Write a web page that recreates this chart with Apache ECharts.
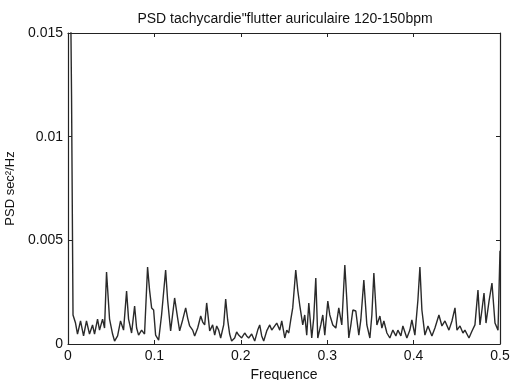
<!DOCTYPE html>
<html>
<head>
<meta charset="utf-8">
<script src="https://cdn.jsdelivr.net/npm/echarts@6/dist/echarts.min.js"></script>
<style>html,body{margin:0;padding:0;background:#fff;}#c{width:514px;height:380px;}</style>
</head>
<body>
<div id="c"></div>
<script>
var titleText = 'PSD tachycardie"flutter auriculaire 120-150bpm';
var xName = 'Frequence';
var yName = 'PSD sec\u00b2/Hz';
var xTicks = [0, 0.1, 0.2, 0.3, 0.4, 0.5];
var yTicks = [0, 0.005, 0.01, 0.015];
var freq = [0,0.0041,0.0058,0.0087,0.0110,0.0145,0.0180,0.0214,0.0249,0.0284,0.0307,0.0342,0.0365,0.0400,0.0423,0.0446,0.0481,0.0516,0.0539,0.0574,0.0608,0.0643,0.0678,0.0701,0.0736,0.0771,0.0794,0.0817,0.0852,0.0886,0.0921,0.0944,0.0968,0.0991,0.1014,0.1049,0.1083,0.1130,0.1153,0.1188,0.1234,0.1269,0.1292,0.1327,0.1362,0.1385,0.1408,0.1443,0.1466,0.1501,0.1536,0.1559,0.1582,0.1605,0.1640,0.1674,0.1698,0.1721,0.1744,0.1767,0.1802,0.1825,0.1848,0.1871,0.1894,0.1929,0.1952,0.1975,0.2010,0.2045,0.2068,0.2091,0.2126,0.2161,0.2196,0.2219,0.2242,0.2265,0.2300,0.2335,0.2358,0.2381,0.2416,0.2451,0.2474,0.2509,0.2532,0.2555,0.2578,0.2601,0.2636,0.2659,0.2682,0.2717,0.2740,0.2763,0.2787,0.2821,0.2844,0.2868,0.2891,0.2926,0.2949,0.2972,0.3007,0.3030,0.3065,0.3100,0.3134,0.3169,0.3204,0.3227,0.3250,0.3274,0.3297,0.3331,0.3366,0.3389,0.3424,0.3459,0.3494,0.3517,0.3540,0.3575,0.3610,0.3633,0.3656,0.3691,0.3725,0.3760,0.3795,0.3818,0.3853,0.3876,0.3922,0.3957,0.3980,0.4015,0.4050,0.4073,0.4096,0.4131,0.4166,0.4212,0.4247,0.4293,0.4328,0.4363,0.4409,0.4444,0.4479,0.4502,0.4537,0.4571,0.4594,0.4641,0.4676,0.4710,0.4745,0.4768,0.4791,0.4815,0.4838,0.4873,0.4907,0.4942,0.4977,0.5];
var psd = [0.03,0.012,0.0014,0.00101,0.00048,0.00111,0.00039,0.00111,0.00048,0.00092,0.00048,0.0012,0.00067,0.0012,0.00077,0.00347,0.0012,0.00048,0.00014,0.00039,0.00111,0.00067,0.00255,0.0012,0.00053,0.00183,0.00077,0.00043,0.00067,0.00048,0.00371,0.0026,0.00174,0.00164,0.00043,0.00019,0.0014,0.00357,0.00212,0.00063,0.00222,0.00125,0.00063,0.00116,0.00174,0.00125,0.00087,0.00067,0.00039,0.00077,0.00135,0.00106,0.00092,0.00198,0.00063,0.00092,0.00043,0.00087,0.00067,0.00029,0.00092,0.00217,0.00116,0.00048,0.00014,0.00029,0.00058,0.00043,0.00029,0.00053,0.00039,0.00029,0.00048,0.00014,0.00067,0.00092,0.00039,0.00014,0.00063,0.00092,0.00067,0.00072,0.00101,0.00067,0.00111,0.00029,0.00067,0.00053,0.00116,0.00174,0.00357,0.0026,0.00188,0.00092,0.0014,0.00043,0.00198,0.00029,0.00125,0.00318,0.00029,0.00092,0.0014,0.00043,0.00207,0.0014,0.00092,0.00077,0.00174,0.00092,0.00381,0.00212,0.00029,0.00092,0.00164,0.00159,0.00043,0.00116,0.00308,0.00092,0.00029,0.0014,0.00342,0.00092,0.00135,0.00077,0.00111,0.00053,0.00029,0.00067,0.00039,0.00067,0.00039,0.00087,0.00029,0.00067,0.00116,0.00043,0.00212,0.00371,0.00164,0.00043,0.00087,0.00039,0.00077,0.0014,0.00087,0.00111,0.00067,0.00111,0.00174,0.00067,0.00087,0.00053,0.00067,0.00029,0.00063,0.00092,0.0026,0.00092,0.00164,0.00246,0.00101,0.00207,0.00294,0.00101,0.00067,0.0045];

var data = freq.map(function (f, i) { return [f, psd[i]]; });
var font = '"Liberation Sans", Arial, sans-serif';
var ink = '#111';
function fmt(v) { return String(+v.toFixed(3)); }
var baseX = { type: 'value', min: xTicks[0], max: xTicks[xTicks.length - 1], interval: 0.1,
  axisLine: { show: true, onZero: false, lineStyle: { color: '#222', width: 1.2 } },
  axisTick: { show: true, inside: true, length: 4, lineStyle: { color: '#222' } },
  splitLine: { show: false } };
var baseY = { type: 'value', min: yTicks[0], max: yTicks[yTicks.length - 1], interval: 0.005,
  axisLine: { show: true, onZero: false, lineStyle: { color: '#222', width: 1.2 } },
  axisTick: { show: true, inside: true, length: 4, lineStyle: { color: '#222' } },
  splitLine: { show: false } };

var chart = echarts.init(document.getElementById('c'), null, { renderer: 'canvas' });
chart.setOption({
  backgroundColor: '#fff',
  animation: false,
  title: { text: titleText, left: 280, textAlign: 'center', top: 7,
    textStyle: { fontFamily: font, fontSize: 14, fontWeight: 'normal', color: ink } },
  grid: { left: 68, right: 14, top: 33, bottom: 36, containLabel: false, outerBoundsMode: 'none' },
  xAxis: [
    Object.assign({}, baseX, { position: 'bottom', name: xName, nameLocation: 'middle', nameGap: 22,
      nameTextStyle: { fontFamily: font, fontSize: 14, color: ink },
      axisLabel: { fontFamily: font, fontSize: 14, color: ink, margin: 5, formatter: fmt } }),
    Object.assign({}, baseX, { position: 'top', axisLabel: { show: false } })
  ],
  yAxis: [
    Object.assign({}, baseY, { position: 'left', name: yName, nameLocation: 'middle', nameGap: 43,
      nameTextStyle: { fontFamily: font, fontSize: 13, color: ink },
      axisLabel: { fontFamily: font, fontSize: 14, color: ink, margin: 5, formatter: fmt } }),
    Object.assign({}, baseY, { position: 'right', axisLabel: { show: false } })
  ],
  series: [{
    type: 'line', data: data, xAxisIndex: 0, yAxisIndex: 0, showSymbol: false, clip: true,
    lineStyle: { color: '#2a2a2a', width: 1.4 }
  }]
});
</script>
</body>
</html>
